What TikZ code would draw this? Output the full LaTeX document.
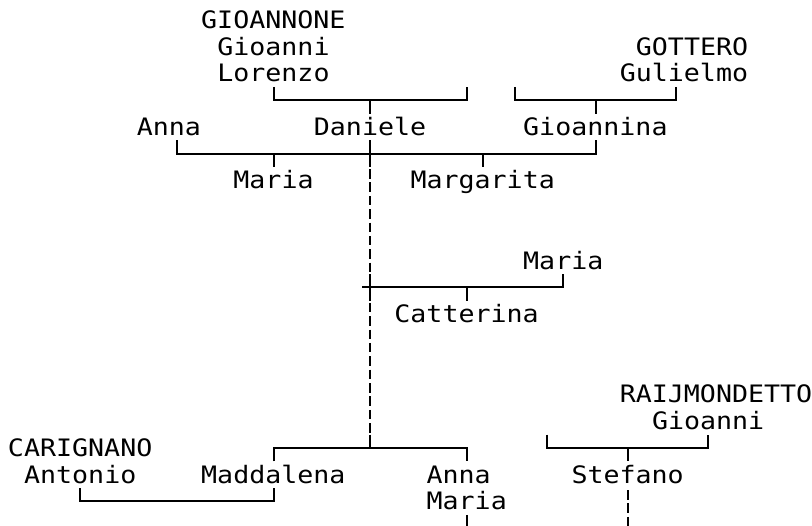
\documentclass[tikz,border=0pt]{standalone}
\usepackage{fontspec}
\newfontfamily\gmono[FakeStretch=1.11]{DejaVu Sans Mono}
\begin{document}
\begin{tikzpicture}[x=16.1pt,y=-26.75pt,
  lbl/.style={anchor=base west, inner sep=0pt, outer sep=0pt, font=\gmono\fontsize{24pt}{26pt}\selectfont},
  link/.style={line width=2pt, line cap=butt},
  dashlink/.style={link, dash pattern=on 9.5pt off 3.875pt, dash phase=11.4pt}]
\useasboundingbox (0pt,0pt) rectangle (812pt,-526pt);
\begin{scope}[xshift=16.05pt,yshift=-20pt]
% ---- names (column of first letter - 0.5, row + 0.31) ----
\node[lbl] (gioannone) at (11.5,0.31) {GIOANNONE};
\node[lbl] (gioanniA)  at (12.5,1.31) {Gioanni};
\node[lbl] (lorenzo)   at (12.5,2.31) {Lorenzo};
\node[lbl] (gottero)   at (38.5,1.31) {GOTTERO};
\node[lbl] (gulielmo)  at (37.5,2.31) {Gulielmo};
\node[lbl] (annaA)     at (7.5,4.31)  {Anna};
\node[lbl] (daniele)   at (18.5,4.31) {Daniele};
\node[lbl] (gioannina) at (31.5,4.31) {Gioannina};
\node[lbl] (mariaA)    at (13.5,6.31) {Maria};
\node[lbl] (margarita) at (24.5,6.31) {Margarita};
\node[lbl] (mariaB)    at (31.5,9.31) {Maria};
\node[lbl] (catterina) at (23.5,11.31) {Catterina};
\node[lbl] (raij)      at (37.5,14.31) {RAIJMONDETTO};
\node[lbl] (gioanniB)  at (39.5,15.31) {Gioanni};
\node[lbl] (carignano) at (-0.5,16.31) {CARIGNANO};
\node[lbl] (antonio)   at (0.5,17.31) {Antonio};
\node[lbl] (maddalena) at (11.5,17.31) {Maddalena};
\node[lbl] (annaB)     at (25.5,17.31) {Anna};
\node[lbl] (mariaC)    at (25.5,18.31) {Maria};
\node[lbl] (stefano)   at (34.5,17.31) {Stefano};
% ---- junction coordinates ----
\coordinate (lorA) at (16,2.5);  \coordinate (jA) at (22,3);   \coordinate (lorB) at (28,2.5);
\coordinate (danT) at (22,3.5);
\coordinate (gotA) at (31,2.5);  \coordinate (jB) at (36,3);   \coordinate (gotB) at (41,2.5);
\coordinate (ginT) at (36,3.5);
\coordinate (annB) at (10,4.5);  \coordinate (jC) at (22,5);   \coordinate (ginB) at (36,4.5);
\coordinate (jM1) at (16,5);     \coordinate (m1T) at (16,5.5);
\coordinate (jMg) at (29,5);     \coordinate (mgT) at (29,5.5);
\coordinate (danB) at (22,4.5);  \coordinate (dA) at (22,5.5);
\coordinate (xTop) at (22,9.5);  \coordinate (xBot) at (22,10.5);
\coordinate (yTop) at (22,15.5); \coordinate (jE) at (22,16);
\coordinate (hL) at (21.5,10);   \coordinate (jD) at (28,10);  \coordinate (m2B) at (34,9.5);
\coordinate (catT) at (28,10.5);
\coordinate (madT) at (16,16.5); \coordinate (anT) at (28,16.5);
\coordinate (rA) at (33,15.5);   \coordinate (jF) at (38,16);  \coordinate (rB) at (43,15.5);
\coordinate (stT) at (38,16.5);
\coordinate (antB) at (4,17.5);  \coordinate (jG) at (10,18);  \coordinate (madB) at (16,17.5);
\coordinate (stB) at (38,17.5);  \coordinate (stEnd) at (38,20);
\coordinate (maB) at (28,18.5);  \coordinate (maEnd) at (28,20);
% ---- connectors ----
\draw[link] (lorA) |- (jA) -| (lorB);
\draw[link] (jA) -- (danT);
\draw[link] (gotA) |- (jB) -| (gotB);
\draw[link] (jB) -- (ginT);
\draw[link] (annB) |- (jC) -| (ginB);
\draw[link] (jM1) -- (m1T);
\draw[link] (jMg) -- (mgT);
\draw[link] (danB) -- (dA);
\draw[dashlink] (dA) -- (xTop);
\draw[link] (xTop) -- (xBot);
\draw[dashlink] (xBot) -- (yTop);
\draw[link] (yTop) -- (jE);
\draw[link] (hL) -- (jD) -| (m2B);
\draw[link] (jD) -- (catT);
\draw[link] (madT) |- (jE) -| (anT);
\draw[link] (rA) |- (jF) -| (rB);
\draw[link] (jF) -- (stT);
\draw[link] (antB) |- (jG) -| (madB);
\draw[dashlink] (stB) -- (stEnd);
\draw[link] (maB) -- (maEnd);
\end{scope}
\end{tikzpicture}
\end{document}
